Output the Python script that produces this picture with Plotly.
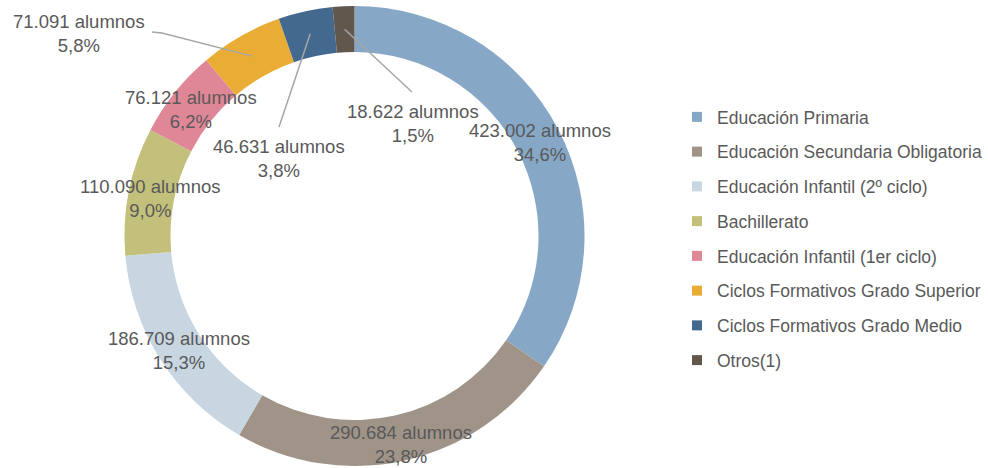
import math
import plotly.graph_objects as go

categories = ["Educación Primaria", "Educación Secundaria Obligatoria", "Educación Infantil (2º ciclo)",
              "Bachillerato", "Educación Infantil (1er ciclo)", "Ciclos Formativos Grado Superior",
              "Ciclos Formativos Grado Medio", "Otros(1)"]
alumnos = [423002, 290684, 186709, 110090, 76121, 71091, 46631, 18622]
pct_labels = ["34,6%", "23,8%", "15,3%", "9,0%", "6,2%", "5,8%", "3,8%", "1,5%"]
count_labels = ["423.002", "290.684", "186.709", "110.090", "76.121", "71.091", "46.631", "18.622"]

colors = ["#86A8C6", "#A09489", "#C7D6E1", "#C3C07B", "#E08797", "#E9AD35", "#44698F", "#62574D"]

W, H = 988, 468
CX, CY, R_OUT = 354.5, 236.0, 230.0
HOLE = 0.8
FONT = "Liberation Sans Narrow, Arial Narrow, Liberation Sans, sans-serif"
TXT = "#595959"

def px(x):
    return x / W

def py(y):
    return 1 - y / H

fig = go.Figure()
fig.add_trace(go.Pie(
    labels=categories, values=alumnos, sort=False, direction="clockwise", rotation=0,
    hole=HOLE, marker=dict(colors=colors, line=dict(width=0)), textinfo="none",
    showlegend=False, hoverinfo="label+value+percent",
    domain=dict(x=[px(CX - R_OUT), px(CX + R_OUT)], y=[py(CY + R_OUT), py(CY - R_OUT)]),
))

# legend via dummy traces
for c, col in zip(categories, colors):
    fig.add_trace(go.Scatter(x=[None], y=[None], mode="markers", name=c, legendgroup=c,
                             marker=dict(symbol="square", size=10, color=col), showlegend=True))

# label positions (pixel centres of text blocks)
label_pos = [(540, 142), (401, 444), (179, 350), (150, 198), (191, 109), (79, 34), (279, 158), (413, 124)]
for cnt, pc, (lx, ly) in zip(count_labels, pct_labels, label_pos):
    fig.add_annotation(x=px(lx), y=py(ly), xref="paper", yref="paper", showarrow=False,
                       xanchor="center", yanchor="middle",
                       text=f"{cnt} alumnos<br>{pc}", align="center",
                       font=dict(family=FONT, size=18.5, color=TXT))

# leader lines to slices (anchor on the ring middle, derived from data)
total = sum(alumnos)
cum = 0
mids = []
for v in alumnos:
    mids.append((cum + v / 2) / total * 2 * math.pi)
    cum += v
r_mid = R_OUT * (1 + HOLE) / 2

def ring_pt(i):
    a = mids[i]
    return CX + r_mid * math.sin(a), CY - r_mid * math.cos(a)

leaders = {5: [(152, 32), (162, 33)], 6: [(279, 127)], 7: [(412, 92)]}
for i, pts in leaders.items():
    rx, ry = ring_pt(i)
    allp = pts + [(rx, ry)]
    path = "M " + " L ".join(f"{px(x)},{py(y)}" for x, y in allp)
    fig.add_shape(type="path", path=path, xref="paper", yref="paper",
                  line=dict(color="#A6A6A6", width=1.5))

fig.update_layout(
    width=W, height=H, margin=dict(l=0, r=0, t=0, b=0, autoexpand=False),
    paper_bgcolor="white", plot_bgcolor="white",
    xaxis=dict(visible=False), yaxis=dict(visible=False),
    legend=dict(x=px(677), y=py(99), xanchor="left", yanchor="top",
                font=dict(family=FONT, size=17.5, color=TXT), tracegroupgap=9,
                bgcolor="rgba(0,0,0,0)"),
)
fig.write_html("out.html", config={"displayModeBar": False},
               post_script="document.body.style.margin='0';document.body.style.padding='0';")
